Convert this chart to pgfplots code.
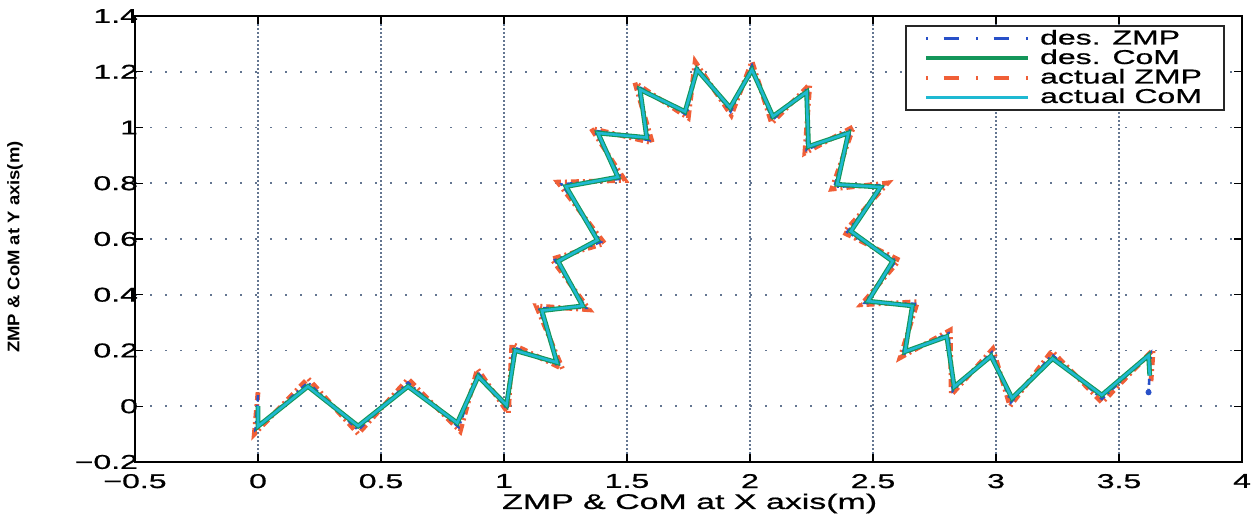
\documentclass[border=0pt]{standalone}
\usepackage{fontspec}
\setmainfont{Liberation Sans}[FakeStretch=1.6, FakeBold=0.8]
\newfontfamily\ylabfont{Liberation Sans Bold}[FakeStretch=1.1]
\usepackage{pgfplots}
\usepackage{pgfplotstable}
\pgfplotsset{compat=1.18}
\definecolor{dzmp}{RGB}{40,80,200}
\definecolor{dcom}{RGB}{20,150,90}
\definecolor{azmp}{RGB}{240,95,55}
\definecolor{acom}{RGB}{30,185,210}
\definecolor{gridc}{RGB}{100,118,145}

\pgfplotstableread{
x y
0 0
0 -0.072
0.203 0.071
0.407 -0.071
0.61 0.071
0.81 -0.06
0.895 0.107
1.01 0.004
1.045 0.2
1.215 0.157
1.154 0.343
1.32 0.36
1.22 0.52
1.38 0.596
1.252 0.788
1.463 0.822
1.382 0.98
1.58 0.964
1.553 1.136
1.736 1.057
1.785 1.207
1.919 1.071
2.008 1.207
2.093 1.04
2.23 1.127
2.238 0.932
2.40 0.98
2.354 0.796
2.53 0.786
2.41 0.628
2.58 0.52
2.48 0.377
2.66 0.36
2.63 0.196
2.80 0.25
2.83 0.07
2.98 0.18
3.065 0.029
3.23 0.171
3.43 0.04
3.62 0.182
3.625 0.11
}\comtab

\pgfplotstableread{
x y
0 0.04
-0.01 -0.083
0.203 0.085
0.407 -0.085
0.61 0.0845
0.816 -0.075
0.8935 0.1205
1.014 -0.011
1.038 0.212
1.2265 0.1455
1.1425 0.3515
1.3335 0.353
1.207 0.524
1.3945 0.590
1.235 0.796
1.4775 0.816
1.368 0.9885
1.591 0.9545
1.5425 1.1485
1.7425 1.0455
1.781 1.221
1.921 1.057
2.008 1.222
2.0905 1.027
2.2365 1.141
2.2303 0.9199
2.4104 0.9916
2.343 0.7873
2.5448 0.7934
2.3955 0.6255
2.5935 0.5218
2.466 0.3707
2.6705 0.3674
2.62 0.185
2.807 0.2615
2.824 0.0555
2.983 0.193
3.061 0.0143
3.2283 0.1845
3.4305 0.0263
3.6293 0.1927
3.62 0.05
}\dzmptab

\pgfplotstableread{
x y
0 0.05
-0.015 -0.1
0.203 0.1
0.407 -0.099
0.61 0.098
0.822 -0.09
0.892 0.134
1.018 -0.026
1.032 0.224
1.238 0.134
1.131 0.36
1.347 0.346
1.194 0.528
1.409 0.584
1.218 0.804
1.492 0.81
1.354 0.997
1.603 0.945
1.532 1.161
1.749 1.034
1.777 1.236
1.924 1.044
2.008 1.237
2.088 1.015
2.243 1.155
2.223 0.908
2.421 1.003
2.332 0.779
2.56 0.801
2.381 0.623
2.607 0.524
2.452 0.364
2.681 0.375
2.61 0.174
2.814 0.273
2.818 0.041
2.987 0.206
3.057 0.0
3.227 0.198
3.431 0.013
3.639 0.203
3.63 0.09
}\azmptab

\begin{document}
\begin{tikzpicture}
\begin{axis}[name=ax, scale only axis, width=553.5pt, height=223pt,
  xmin=-0.5, xmax=4, ymin=-0.2, ymax=1.4,
  xtick={-0.5,0,0.5,1,1.5,2,2.5,3,3.5,4},
  xticklabels={−0.5,0,0.5,1,1.5,2,2.5,3,3.5,4},
  ytick={-0.2,0,0.2,0.4,0.6,0.8,1,1.2,1.4},
  yticklabels={−0.2,0,0.2,0.4,0.6,0.8,1,1.2,1.4},
  tick align=inside, major tick length=4pt, tick pos=both,
  tick style={black, line width=0.6pt},
  axis line style={black, line width=0.8pt},
  grid=major,
  x grid style={color=gridc, line width=0.85pt, dash pattern=on 0.8pt off 1.2pt},
  y grid style={color=gridc, line width=0.85pt, dash pattern=on 0.8pt off 6.7pt},
  ticklabel style={font=\fontsize{10}{12}\selectfont},
  xticklabel style={yshift=-2.5pt},
  yticklabel style={xshift=5pt},
  xlabel={ZMP \& CoM at X axis(m)},
  ylabel={ZMP \& CoM at Y axis(m)},
  xlabel style={at={(axis description cs:0.501,-0.093)}, anchor=center, font=\fontsize{10.6}{13}\selectfont},
  ylabel style={at={(axis description cs:-0.1084,0.482)}, anchor=center, font=\ylabfont\fontsize{8.4}{10}\selectfont},
  legend image code/.code={\draw[#1] (0pt,0pt) -- (51pt,0pt); \path (54pt,0pt);},
  legend cell align=left,
  legend style={at={(axis description cs:0.9846,0.9798)}, anchor=north east,
    draw=black!85, line width=1pt, fill=white,
    font=\fontsize{10}{10}\selectfont,
    inner xsep=9pt, inner ysep=0pt, row sep=-3pt},
]
\addlegendimage{dzmp, line width=1.3pt, dash pattern=on 0.8pt off 8pt on 7.5pt off 8.7pt}
\addlegendentry{des. ZMP}
\addlegendimage{dcom, line width=2pt}
\addlegendentry{des. CoM}
\addlegendimage{azmp, line width=2pt, dash pattern=on 0.8pt off 8pt on 7.5pt off 8.7pt}
\addlegendentry{actual ZMP}
\addlegendimage{acom, line width=1.3pt}
\addlegendentry{actual CoM}

\addplot[forget plot, azmp, line width=2.4pt, dash pattern=on 4pt off 2pt on 1pt off 2pt] table[x=x,y=y] {\azmptab};
\addplot[forget plot, dzmp, line width=1.3pt, dash pattern=on 3pt off 2pt on 1pt off 2pt] table[x=x,y=y] {\dzmptab};
\addplot[forget plot, dcom, line width=2.4pt] table[x=x,y=y] {\comtab};
\addplot[forget plot, acom, line width=1.3pt] table[x=x,y=y] {\comtab};
\addplot[forget plot, only marks, mark=*, mark size=1.3pt, dzmp] coordinates {(3.62,0.05)};
\end{axis}
\pgfresetboundingbox
\path ([shift={(-67.5pt,-27pt)}]ax.south west) rectangle ([shift={(9pt,8pt)}]ax.north east);
\end{tikzpicture}
\end{document}
